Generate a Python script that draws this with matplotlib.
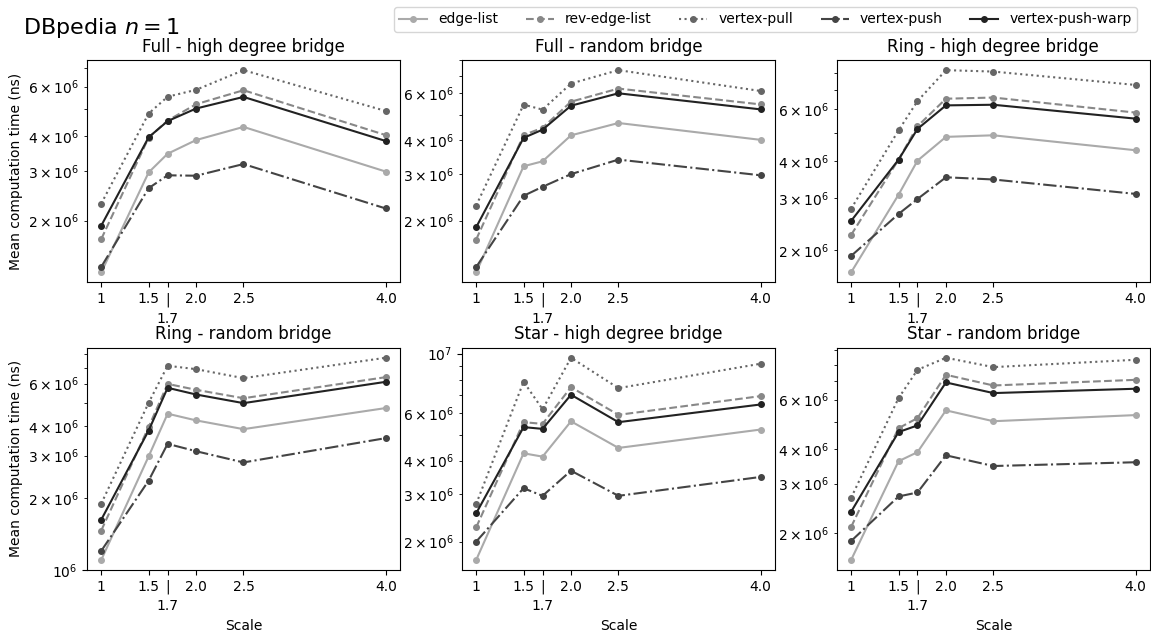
import numpy as np
import matplotlib
matplotlib.use('Agg')
import matplotlib.pyplot as plt

scales = [1, 1.5, 1.7, 2.0, 2.5, 4.0]
scale_labels = ['1', '1.5', '|\n1.7', '2.0', '2.5', '4.0']

variants = ['edge-list', 'rev-edge-list', 'vertex-pull', 'vertex-push', 'vertex-push-warp']

titles = ['Full - high degree bridge', 'Full - random bridge', 'Ring - high degree bridge',
          'Ring - random bridge', 'Star - high degree bridge', 'Star - random bridge']

# mean computation time (ns), one list per variant, per panel
full_high = {
    'edge-list':        [1.31e6, 2.97e6, 3.46e6, 3.87e6, 4.31e6, 2.99e6],
    'rev-edge-list':    [1.72e6, 3.95e6, 4.54e6, 5.19e6, 5.82e6, 4.03e6],
    'vertex-pull':      [2.30e6, 4.81e6, 5.52e6, 5.84e6, 6.86e6, 4.91e6],
    'vertex-push':      [1.37e6, 2.61e6, 2.90e6, 2.89e6, 3.18e6, 2.21e6],
    'vertex-push-warp': [1.92e6, 3.96e6, 4.52e6, 5.01e6, 5.51e6, 3.84e6],
}
full_random = {
    'edge-list':        [1.28e6, 3.20e6, 3.34e6, 4.18e6, 4.65e6, 4.02e6],
    'rev-edge-list':    [1.70e6, 4.19e6, 4.46e6, 5.59e6, 6.26e6, 5.46e6],
    'vertex-pull':      [2.28e6, 5.45e6, 5.22e6, 6.54e6, 7.34e6, 6.13e6],
    'vertex-push':      [1.34e6, 2.48e6, 2.68e6, 2.99e6, 3.39e6, 2.96e6],
    'vertex-push-warp': [1.89e6, 4.09e6, 4.39e6, 5.40e6, 6.01e6, 5.23e6],
}
ring_high = {
    'edge-list':        [1.68e6, 3.08e6, 4.02e6, 4.84e6, 4.90e6, 4.36e6],
    'rev-edge-list':    [2.25e6, 4.05e6, 5.26e6, 6.52e6, 6.58e6, 5.85e6],
    'vertex-pull':      [2.76e6, 5.09e6, 6.40e6, 8.15e6, 8.06e6, 7.26e6],
    'vertex-push':      [1.91e6, 2.65e6, 2.98e6, 3.53e6, 3.47e6, 3.10e6],
    'vertex-push-warp': [2.51e6, 4.05e6, 5.15e6, 6.19e6, 6.22e6, 5.58e6],
}
ring_random = {
    'edge-list':        [1.10e6, 2.98e6, 4.49e6, 4.21e6, 3.87e6, 4.74e6],
    'rev-edge-list':    [1.46e6, 3.95e6, 5.98e6, 5.65e6, 5.21e6, 6.38e6],
    'vertex-pull':      [1.89e6, 4.99e6, 7.12e6, 6.89e6, 6.32e6, 7.69e6],
    'vertex-push':      [1.20e6, 2.36e6, 3.36e6, 3.13e6, 2.81e6, 3.55e6],
    'vertex-push-warp': [1.62e6, 3.82e6, 5.76e6, 5.40e6, 4.97e6, 6.10e6],
}
star_high = {
    'edge-list':        [1.71e6, 4.26e6, 4.14e6, 5.60e6, 4.46e6, 5.22e6],
    'rev-edge-list':    [2.26e6, 5.56e6, 5.48e6, 7.50e6, 5.92e6, 6.95e6],
    'vertex-pull':      [2.76e6, 7.86e6, 6.21e6, 9.65e6, 7.44e6, 9.17e6],
    'vertex-push':      [2.00e6, 3.16e6, 2.96e6, 3.67e6, 2.96e6, 3.48e6],
    'vertex-push-warp': [2.55e6, 5.33e6, 5.25e6, 7.03e6, 5.56e6, 6.47e6],
}
star_random = {
    'edge-list':        [1.60e6, 3.61e6, 3.89e6, 5.49e6, 5.02e6, 5.28e6],
    'rev-edge-list':    [2.10e6, 4.74e6, 5.15e6, 7.36e6, 6.74e6, 7.06e6],
    'vertex-pull':      [2.67e6, 6.07e6, 7.67e6, 8.47e6, 7.84e6, 8.33e6],
    'vertex-push':      [1.87e6, 2.70e6, 2.79e6, 3.79e6, 3.47e6, 3.58e6],
    'vertex-push-warp': [2.38e6, 4.59e6, 4.85e6, 6.91e6, 6.33e6, 6.56e6],
}
panels = [full_high, full_random, ring_high, ring_random, star_high, star_random]

styles = {
    'edge-list':        dict(color='#aaaaaa', linestyle='-'),
    'rev-edge-list':    dict(color='#888888', linestyle='--'),
    'vertex-pull':      dict(color='#666666', linestyle=':'),
    'vertex-push':      dict(color='#444444', linestyle='-.'),
    'vertex-push-warp': dict(color='#222222', linestyle='-'),
}

fig, axs = plt.subplots(2, 3, figsize=(11.51, 6.32), dpi=100)
fig.subplots_adjust(left=0.0756, right=0.999, top=0.905, bottom=0.098, wspace=0.198, hspace=0.293)

for i, ax in enumerate(axs.flat):
    data = panels[i]
    for v in variants:
        ax.plot(scales, data[v], marker='o', markersize=4, linewidth=1.5, label=v, **styles[v])
    ax.set_yscale('log')
    ax.set_title(titles[i], fontsize=12)
    ax.set_xticks(scales)
    ax.set_xticklabels(scale_labels)
    ax.get_xticklabels()[2].set_linespacing(1.45)
    if i % 3 == 0:
        ax.set_ylabel('Mean computation time (ns)')
    if i >= 3:
        ax.set_xlabel('Scale')

handles, labels = axs[0, 0].get_legend_handles_labels()
fig.legend(handles, labels, loc='upper right', ncol=5, bbox_to_anchor=(0.994, 1.0))
fig.text(0.02, 0.975, 'DBpedia $n = 1$', fontsize=16, va='top')

fig.savefig('out.png', dpi=100)
